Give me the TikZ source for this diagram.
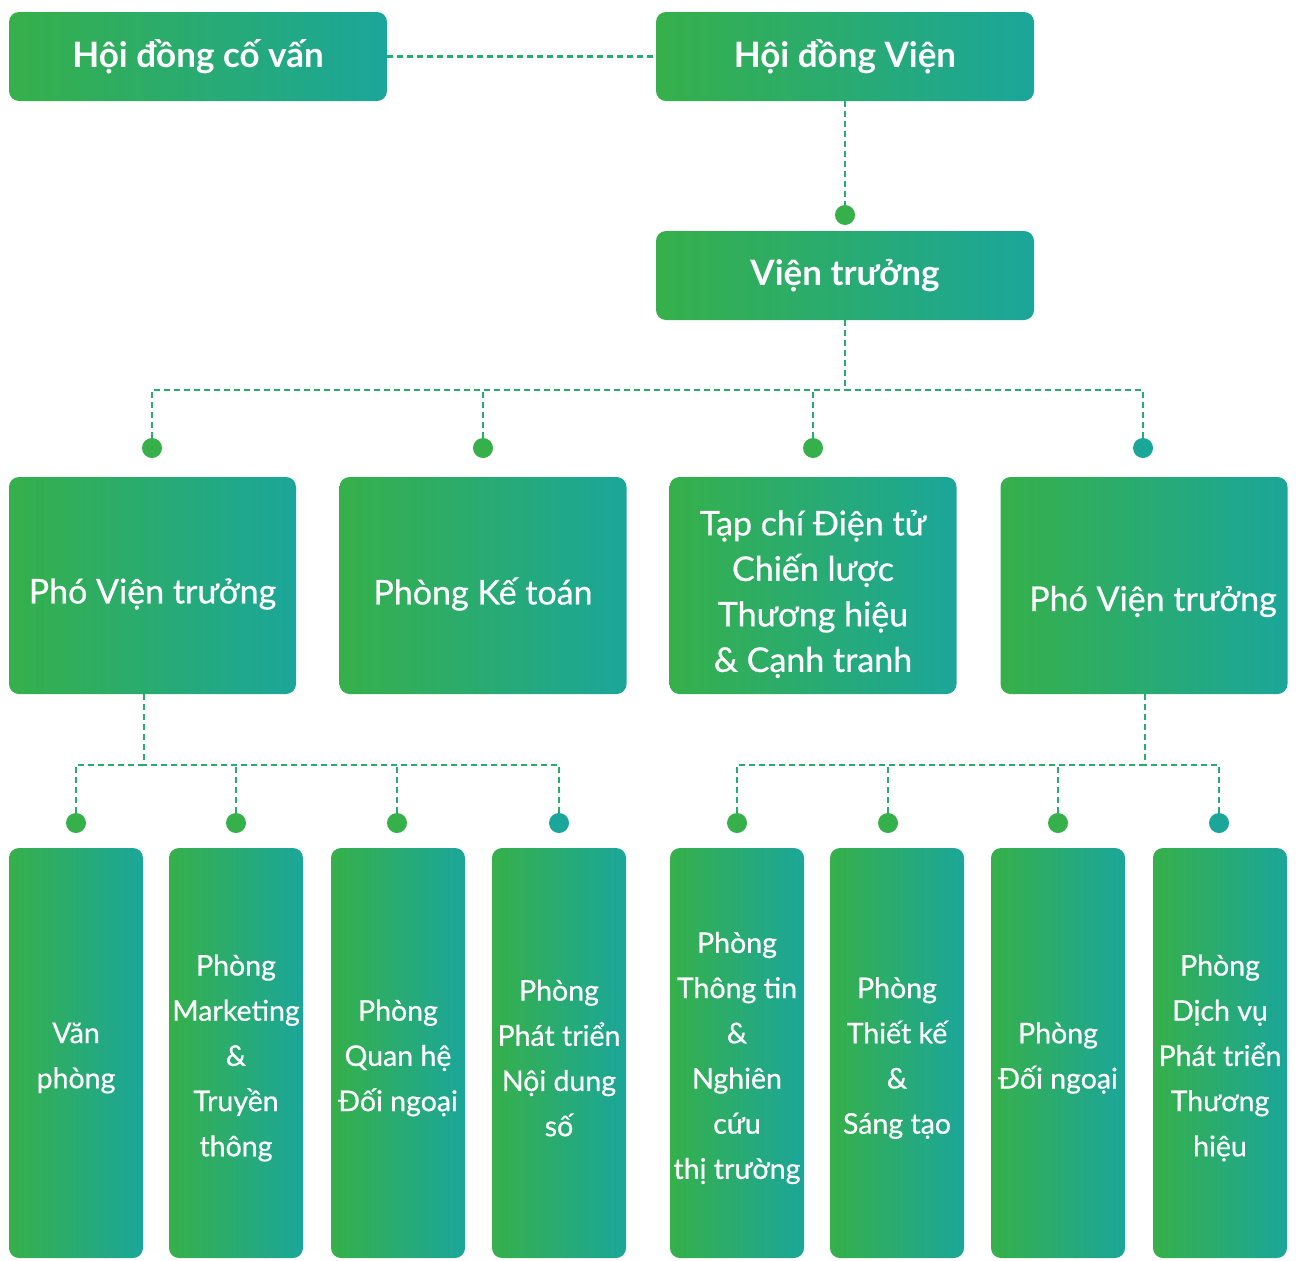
\documentclass[tikz,border=0pt]{standalone}
\usepackage{fontspec}
\setmainfont{Lato}
\newfontfamily\medfont[FakeBold=0.6]{Lato}
\usetikzlibrary{calc,positioning}

\definecolor{grleft}{HTML}{36B04A}
\definecolor{grright}{HTML}{1BA69A}
\definecolor{linkcol}{HTML}{29AD6E}

\tikzset{
	orgbox/.style={rounded corners=10pt, left color=grleft, right color=grright, draw=none, text=white, align=center, inner sep=0pt},
	headbox/.style={orgbox, minimum width=378pt, minimum height=89pt, font=\fontsize{35}{40}\selectfont\bfseries},
	depttext/.style={font=\medfont\fontsize{34}{45.5}\selectfont, text=white, align=center, yshift=-8.5pt},
	deptbox/.style={orgbox, minimum width=287pt, minimum height=217pt},
	unittext/.style={font=\medfont\fontsize{28.5}{45.2}\selectfont, text=white, align=center, yshift=-5pt},
	unitbox/.style={orgbox, minimum width=134pt, minimum height=410pt},
	joint/.style={circle, fill=grleft, minimum size=20pt, inner sep=0pt},
	jointend/.style={joint, fill=grright},
	link/.style={linkcol, dash pattern=on 6pt off 4pt, line width=2.5pt}
}

\begin{document}
\begin{tikzpicture}[x=1pt,y=-1pt]
		\useasboundingbox (0,0) rectangle (1296,1261);
		\def \topy {56.5}
		\def \midy {585.5}
		\def \lowy {1053}
		
		%top row
		\node[headbox] (hdcv) at (198,\topy) {Hội đồng cố vấn};
		\node[headbox] (hdv) at (845,\topy) {Hội đồng Viện};
		\node[joint] (jvt) at (845,215) {};
		\node[headbox] (vt) at (845,275.5) {Viện trưởng};
		
		\draw[link] (hdcv) -- (hdv);
		\draw[link] (hdv) -- (jvt);
		
		%second row
		\node[joint] (j1) at (152,448) {};
		\node[joint] (j2) at (483,448) {};
		\node[joint] (j3) at (813,448) {};
		\node[jointend] (j4) at (1143,448) {};
		
		\node[deptbox, label={[depttext]center:Phó Viện trưởng}] (pvt1) at (152.5,\midy) {};
		\node[deptbox, label={[depttext]center:Phòng Kế toán}] (pkt) at (483,\midy) {};
		\node[deptbox, label={[depttext]center:Tạp chí Điện tử\\Chiến lược\\Thương hiệu\\\& Cạnh tranh}] (tcdt) at (813,\midy) {};
		\node[deptbox, label={[depttext, xshift=9pt, yshift=-7.5pt]center:Phó Viện trưởng}] (pvt2) at (1144,\midy) {};
		
		\coordinate (busvt) at (845,390);
		\draw[link] (vt) -- (busvt);
		\draw[link] (j1) |- (busvt);
		\draw[link] (j4) |- (busvt);
		\draw[link] (j2) -- (j2 |- busvt);
		\draw[link] (j3) -- (j3 |- busvt);
		
		%third row, left
		\node[joint] (ja1) at (76,823) {};
		\node[joint] (ja2) at (236,823) {};
		\node[joint] (ja3) at (397,823) {};
		\node[jointend] (ja4) at (559,823) {};
		
		\node[unitbox, label={[unittext]center:Văn\\phòng}] (vp) at (76,\lowy) {};
		\node[unitbox, label={[unittext]center:Phòng\\Marketing\\\&\\Truyền\\thông}] (mkt) at (236,\lowy) {};
		\node[unitbox, label={[unittext]center:Phòng\\Quan hệ\\Đối ngoại}] (qhdn) at (398,\lowy) {};
		\node[unitbox, label={[unittext]center:Phòng\\Phát triển\\Nội dung\\số}] (ptnd) at (559,\lowy) {};
		
		\coordinate (buspa) at (144,765);
		\draw[link] (pvt1.south -| buspa) -- (buspa);
		\draw[link] (ja1) |- (buspa);
		\draw[link] (ja4) |- (buspa);
		\draw[link] (ja2) -- (ja2 |- buspa);
		\draw[link] (ja3) -- (ja3 |- buspa);
		
		%third row, right
		\node[joint] (jb1) at (737,823) {};
		\node[joint] (jb2) at (888,823) {};
		\node[joint] (jb3) at (1058,823) {};
		\node[jointend] (jb4) at (1219,823) {};
		
		\node[unitbox, label={[unittext]center:Phòng\\Thông tin\\\&\\Nghiên\\cứu\\thị trường}] (ttnc) at (737,\lowy) {};
		\node[unitbox, label={[unittext]center:Phòng\\Thiết kế\\\&\\Sáng tạo}] (tkst) at (897,\lowy) {};
		\node[unitbox, label={[unittext]center:Phòng\\Đối ngoại}] (pdn) at (1058,\lowy) {};
		\node[unitbox, label={[unittext]center:Phòng\\Dịch vụ\\Phát triển\\Thương\\hiệu}] (dvth) at (1220,\lowy) {};
		
		\coordinate (buspb) at (1145,765);
		\draw[link] (pvt2.south -| buspb) -- (buspb);
		\draw[link] (jb1) |- (buspb);
		\draw[link] (jb4) |- (buspb);
		\draw[link] (jb2) -- (jb2 |- buspb);
		\draw[link] (jb3) -- (jb3 |- buspb);
\end{tikzpicture}
\end{document}
